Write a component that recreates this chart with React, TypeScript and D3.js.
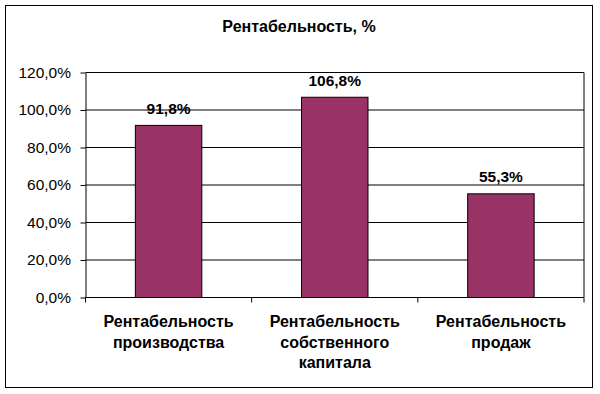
import React, { useEffect, useRef } from 'react';
import * as d3 from 'd3';

const categories = [
  ['Рентабельность', 'производства'],
  ['Рентабельность', 'собственного', 'капитала'],
  ['Рентабельность', 'продаж'],
];
const values = [91.8, 106.8, 55.3];
const yTicks = [0, 20, 40, 60, 80, 100, 120];
const title = 'Рентабельность, %';

const width = 600;
const height = 394;
const margin = { top: 72.5, right: 16, bottom: 96.5, left: 85.5 };
const font = '"Liberation Sans", Arial, sans-serif';

export default function App() {
  const ref = useRef<SVGSVGElement | null>(null);

  useEffect(() => {
    document.body.style.margin = '0';
    const svg = d3.select(ref.current);
    svg.selectAll('*').remove();

    // outer frame
    svg.append('rect')
      .attr('x', 5.5).attr('y', 5.5)
      .attr('width', 587).attr('height', 382)
      .attr('fill', 'white').attr('stroke', 'black').attr('stroke-width', 1);

    svg.append('text')
      .attr('x', 299).attr('y', 31.5)
      .attr('text-anchor', 'middle')
      .attr('font-family', font).attr('font-size', '16px').attr('font-weight', 'bold')
      .text(title);

    const keys = categories.map((_, i) => String(i));
    const x = d3.scaleBand()
      .domain(keys)
      .range([margin.left, width - margin.right])
      .paddingInner(0.6)
      .paddingOuter(0.3);
    const y = d3.scaleLinear()
      .domain([0, 120])
      .range([height - margin.bottom, margin.top]);

    // gridlines
    svg.append('g')
      .selectAll('line')
      .data(yTicks)
      .join('line')
      .attr('x1', margin.left).attr('x2', width - margin.right)
      .attr('y1', d => y(d)).attr('y2', d => y(d))
      .attr('stroke', 'black').attr('stroke-width', 1);

    // plot right border
    svg.append('line')
      .attr('x1', width - margin.right).attr('x2', width - margin.right)
      .attr('y1', margin.top).attr('y2', y(0))
      .attr('stroke', 'black');

    // y axis
    const yAxis = svg.append('g')
      .attr('transform', `translate(${margin.left},0)`)
      .call(d3.axisLeft(y).tickValues(yTicks).tickSize(5).tickSizeOuter(0)
        .tickFormat(d => (d as number).toFixed(1).replace('.', ',') + '%'));
    yAxis.select('.domain').attr('stroke', 'black');
    yAxis.selectAll('.tick line').attr('stroke', 'black');
    yAxis.selectAll('.tick text')
      .attr('x', -14.5)
      .attr('fill', 'black')
      .attr('font-family', font).attr('font-size', '15.5px');

    // x axis ticks between categories
    const bounds = d3.range(categories.length + 1).map(i => margin.left + i * ((width - margin.right - margin.left) / categories.length));
    svg.append('line')
      .attr('x1', margin.left).attr('x2', width - margin.right)
      .attr('y1', y(0)).attr('y2', y(0))
      .attr('stroke', 'black');
    svg.append('g')
      .selectAll('line')
      .data(bounds)
      .join('line')
      .attr('x1', d => d).attr('x2', d => d)
      .attr('y1', y(0)).attr('y2', y(0) + 5)
      .attr('stroke', 'black');

    // bars
    svg.append('g')
      .selectAll('rect')
      .data(values)
      .join('rect')
      .attr('x', (_, i) => x(String(i))!)
      .attr('y', d => y(d))
      .attr('width', x.bandwidth())
      .attr('height', d => y(0) - y(d))
      .attr('fill', '#993366')
      .attr('stroke', 'black').attr('stroke-width', 1);

    // value labels
    svg.append('g')
      .selectAll('text')
      .data(values)
      .join('text')
      .attr('x', (_, i) => x(String(i))! + x.bandwidth() / 2)
      .attr('y', d => y(d) - 11.5)
      .attr('text-anchor', 'middle')
      .attr('font-family', font).attr('font-size', '15.5px').attr('font-weight', 'bold')
      .text(d => d.toFixed(1).replace('.', ',') + '%');

    // category labels
    const cat = svg.append('g')
      .selectAll('text')
      .data(categories)
      .join('text')
      .attr('x', (_, i) => x(String(i))! + x.bandwidth() / 2)
      .attr('y', 327)
      .attr('text-anchor', 'middle')
      .attr('font-family', font).attr('font-size', '16px').attr('font-weight', 'bold');
    cat.selectAll('tspan')
      .data(d => d)
      .join('tspan')
      .attr('x', function () { return (this.parentNode as SVGTextElement).getAttribute('x'); })
      .attr('dy', (_, i) => (i === 0 ? 0 : 20.7))
      .text(d => d);
  }, []);

  return <svg ref={ref} width={width} height={height} style={{ display: 'block' }} />;
}
